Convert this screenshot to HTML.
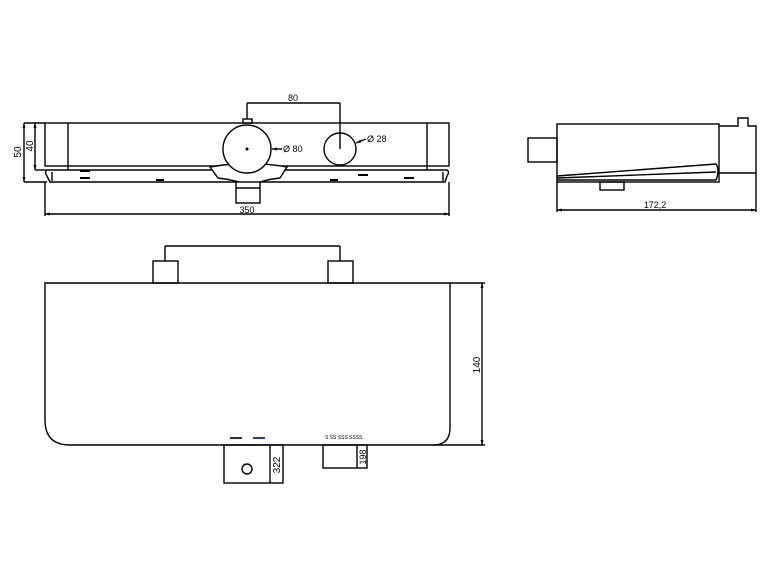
<!DOCTYPE html>
<html><head><style>body{margin:0;background:#fff}svg{display:block}text{font-family:"Liberation Sans",sans-serif;fill:#000}</style></head>
<body>
<svg width="772" height="579" viewBox="0 0 772 579" xmlns="http://www.w3.org/2000/svg" fill="none" stroke="#000" stroke-width="1.4">
<defs><marker id="a" markerWidth="6" markerHeight="6" refX="5" refY="3" orient="auto-start-reverse" markerUnits="userSpaceOnUse"><path d="M0 1.5 L5 3 L0 4.5Z" fill="#000" stroke="none"/></marker></defs>
<!-- top view -->
<rect x="45" y="123" width="404" height="43"/>
<line x1="68" y1="123" x2="68" y2="170"/>
<line x1="427" y1="123" x2="427" y2="170"/>
<path d="M47 170 H447 Q450 172 447 176 L445 182 H50 L47 176 Q44 172 47 170Z"/>
<line x1="52" y1="172" x2="52" y2="181"/>
<line x1="443" y1="172" x2="443" y2="181"/>
<g stroke-width="2"><line x1="80" y1="171" x2="90" y2="171"/><line x1="80" y1="178" x2="90" y2="178"/><line x1="156" y1="180" x2="164" y2="180"/><line x1="330" y1="180" x2="338" y2="180"/><line x1="358" y1="175" x2="368" y2="175"/><line x1="404" y1="178" x2="414" y2="178"/></g>
<line x1="24" y1="123" x2="45" y2="123"/><line x1="24" y1="182" x2="47" y2="182"/>
<line x1="24" y1="123" x2="24" y2="182" marker-start="url(#a)" marker-end="url(#a)"/><line x1="35" y1="123" x2="35" y2="170" marker-start="url(#a)" marker-end="url(#a)"/><line x1="35" y1="170" x2="47" y2="170"/>
<text x="21" y="152" font-size="10" stroke="none" transform="rotate(-90 21 152)" text-anchor="middle">50</text>
<text x="33" y="146" font-size="10" stroke="none" transform="rotate(-90 33 146)" text-anchor="middle">40</text>
<path d="M210 167 Q248 160 287 167 L280 178 Q262 180 250 186 Q236 180 218 178Z" fill="#fff"/>
<rect x="236" y="182" width="24" height="21" fill="#fff"/><line x1="236" y1="188" x2="260" y2="188"/>
<circle cx="247" cy="149" r="24" fill="#fff"/><circle cx="247" cy="149" r="0.8" fill="#000"/>
<circle cx="340" cy="149" r="16"/>
<rect x="243" y="119" width="9" height="4"/>
<line x1="247" y1="103" x2="340" y2="103"/><line x1="247" y1="103" x2="247" y2="119"/><line x1="340" y1="103" x2="340" y2="149"/>
<text x="293" y="101" font-size="9" stroke="none" text-anchor="middle">80</text>
<line x1="282" y1="149" x2="272" y2="149" marker-end="url(#a)"/><text x="283" y="152" font-size="9" stroke="none">Ø 80</text>
<line x1="366" y1="139" x2="356" y2="143" marker-end="url(#a)"/><text x="367" y="142" font-size="9" stroke="none">Ø 28</text>
<line x1="45" y1="214" x2="449" y2="214" marker-start="url(#a)" marker-end="url(#a)"/><line x1="45" y1="182" x2="45" y2="216"/><line x1="449" y1="182" x2="449" y2="216"/>
<text x="247" y="213" font-size="9" stroke="none" text-anchor="middle">350</text>
<!-- side view -->
<rect x="557" y="124" width="162" height="58"/>
<rect x="528" y="138" width="29" height="24"/>
<path d="M719 126 H738 V118 H748 V126 H756 V173 H719"/>
<path d="M557 176 L716 164 Q720 170 716 180 L557 180"/>
<line x1="557" y1="178" x2="716" y2="172"/>
<rect x="600" y="182" width="24" height="8"/>
<line x1="557" y1="210" x2="756" y2="210" marker-start="url(#a)" marker-end="url(#a)"/><line x1="557" y1="182" x2="557" y2="212"/><line x1="756" y1="173" x2="756" y2="212"/>
<text x="655" y="208" font-size="9" stroke="none" text-anchor="middle">172,2</text>
<!-- bottom view -->
<path d="M45 283 H450 V428 Q450 445 433 445 H70 Q45 445 45 420Z"/>
<rect x="153" y="261" width="25" height="22"/><rect x="328" y="261" width="25" height="22"/>
<line x1="165" y1="246" x2="340" y2="246"/><line x1="165" y1="246" x2="165" y2="261"/><line x1="340" y1="246" x2="340" y2="261"/>
<line x1="450" y1="283" x2="485" y2="283"/><line x1="433" y1="445" x2="485" y2="445"/><line x1="482" y1="283" x2="482" y2="445" marker-start="url(#a)" marker-end="url(#a)"/>
<text x="480" y="365" font-size="10" stroke="none" transform="rotate(-90 480 365)" text-anchor="middle">140</text>
<rect x="224" y="445" width="59" height="38"/><line x1="270" y1="445" x2="270" y2="483"/>
<circle cx="247" cy="469" r="5"/>
<text x="280" y="465" font-size="10" stroke="none" transform="rotate(-90 280 465)" text-anchor="middle">322</text>
<rect x="323" y="445" width="44" height="23"/><line x1="357" y1="445" x2="357" y2="468"/>
<text x="366" y="457" font-size="9" stroke="none" transform="rotate(-90 366 457)" text-anchor="middle">198</text>
<line x1="230" y1="438" x2="242" y2="438" stroke="#602020" stroke-width="2"/>
<line x1="253" y1="438" x2="265" y2="438" stroke="#2030c0" stroke-width="2"/>
<text x="325" y="439" font-size="5" stroke="none">S  SS  SSS  SSSS</text>
</svg>
</body></html>
